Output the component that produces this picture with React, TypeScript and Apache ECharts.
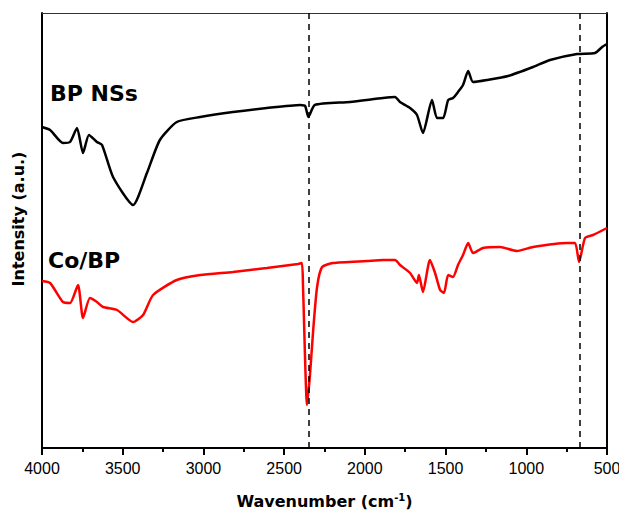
import React, { useEffect, useRef } from "react";
import * as echarts from "echarts";

const wnBP = [4000, 3950, 3870, 3826, 3783, 3746, 3709, 3660, 3628, 3560, 3436, 3350, 3270, 3165, 3020, 2817, 2607, 2400, 2370, 2350, 2310, 2092, 1887, 1813, 1782, 1720, 1677, 1640, 1584, 1553, 1515, 1484, 1454, 1423, 1392, 1360, 1330, 1244, 1113, 958, 853, 685, 574, 530, 500];
const intBP = [321, 318, 305, 306, 320, 295, 313, 306, 303, 271, 243, 275, 308, 326, 331, 336, 340, 343, 342, 331, 343, 346, 350, 351, 346, 340, 333, 315, 348, 330, 330, 348, 350, 356, 363, 377, 366, 368, 372, 381, 388, 394, 395, 401, 404];

const wnCo = [4000, 3950, 3870, 3826, 3777, 3746, 3703, 3660, 3622, 3535, 3436, 3374, 3312, 3165, 3020, 2817, 2607, 2414, 2390, 2383, 2358, 2340, 2320, 2296, 2265, 2197, 1987, 1887, 1813, 1782, 1720, 1677, 1665, 1640, 1597, 1565, 1534, 1510, 1484, 1454, 1423, 1392, 1360, 1330, 1268, 1163, 1058, 958, 747, 698, 673, 636, 586, 500];
const intCo = [167, 165, 146, 145, 163, 130, 150, 146, 141, 138, 126, 133, 153, 168, 173, 176, 180, 184, 185, 161, 43, 73, 118, 161, 181, 185, 187, 188, 188, 183, 175, 165, 173, 156, 188, 175, 158, 155, 173, 171, 183, 193, 205, 195, 200, 201, 197, 201, 205, 205, 186, 210, 213, 220];

const refLines = [2350, 670];
const seriesNames = ["BP NSs", "Co/BP"];

const zip = (xs: number[], ys: number[]) => xs.map((x, i) => [x, ys[i]]);

export default function App() {
  const ref = useRef<HTMLDivElement>(null);
  useEffect(() => {
    if (!ref.current) return;
    const chart = echarts.init(ref.current, undefined, { renderer: "svg" });
    chart.setOption({
      animation: false,
      backgroundColor: "#fff",
      grid: { left: 42, right: 12, top: 13, bottom: 67, containLabel: false, outerBoundsMode: "none" },
      xAxis: [
        {
          type: "value",
          min: 500,
          max: 4000,
          interval: 500,
          inverse: true,
          name: "{b|Wavenumber (cm}{s|-1}{b|)}",
          nameLocation: "middle",
          nameGap: 44,
          nameTextStyle: {
            rich: {
              b: { fontFamily: "DejaVu Sans", fontWeight: "bold", fontSize: 16, color: "#000" },
              s: { fontFamily: "DejaVu Sans", fontWeight: "bold", fontSize: 10, color: "#000", verticalAlign: "top", padding: [0, 0, 8, 0] },
            },
          },
          axisLine: { show: true, onZero: false, lineStyle: { color: "#000", width: 2 } },
          axisTick: { show: true, inside: false, length: 7, lineStyle: { color: "#000", width: 2 } },
          minorTick: { show: true, splitNumber: 2, length: 4, lineStyle: { color: "#000", width: 2 } },
          axisLabel: { color: "#000", fontFamily: "Liberation Sans", fontSize: 16, margin: 12, formatter: (v: number) => String(v) },
          splitLine: { show: false },
        },
        {
          type: "value",
          position: "top",
          min: 500,
          max: 4000,
          inverse: true,
          axisLine: { show: true, onZero: false, lineStyle: { color: "#333", width: 1 } },
          axisTick: { show: false },
          axisLabel: { show: false },
          splitLine: { show: false },
        },
      ],
      yAxis: [
        {
          type: "value",
          min: 0,
          max: 435,
          axisLine: { show: true, onZero: false, lineStyle: { color: "#000", width: 2 } },
          axisTick: { show: false },
          axisLabel: { show: false },
          splitLine: { show: false },
        },
        {
          type: "value",
          position: "right",
          min: 0,
          max: 435,
          axisLine: { show: true, onZero: false, lineStyle: { color: "#000", width: 2 } },
          axisTick: { show: false },
          axisLabel: { show: false },
          splitLine: { show: false },
        },
      ],
      series: [
        {
          name: seriesNames[0],
          type: "line",
          data: zip(wnBP, intBP),
          showSymbol: false,
          smooth: 0.2,
          lineStyle: { color: "#000", width: 2.5 },
          markLine: {
            silent: true,
            symbol: "none",
            label: { show: false },
            lineStyle: { color: "#000", width: 1.5, type: [6, 5] },
            data: refLines.map((v) => ({ xAxis: v })),
          },
        },
        {
          name: seriesNames[1],
          type: "line",
          data: zip(wnCo, intCo),
          showSymbol: false,
          smooth: 0.2,
          lineStyle: { color: "#ff0000", width: 2.5 },
        },
      ],
      graphic: [
        {
          type: "text",
          left: 50,
          top: 82,
          style: { text: seriesNames[0], fontFamily: "DejaVu Sans", fontWeight: "bold", fontSize: 22, fill: "#000" },
        },
        {
          type: "text",
          left: 48,
          top: 249,
          style: { text: seriesNames[1], fontFamily: "DejaVu Sans", fontWeight: "bold", fontSize: 22, fill: "#000" },
        },
        {
          type: "text",
          x: 18,
          y: 219,
          rotation: Math.PI / 2,
          style: { text: "Intensity (a.u.)", fontFamily: "DejaVu Sans", fontWeight: "bold", fontSize: 16, fill: "#000", align: "center", verticalAlign: "middle" },
        },
      ],
    });
    return () => chart.dispose();
  }, []);
  return <div ref={ref} style={{ width: 619, height: 515, position: "absolute", left: 0, top: 0 }} />;
}
